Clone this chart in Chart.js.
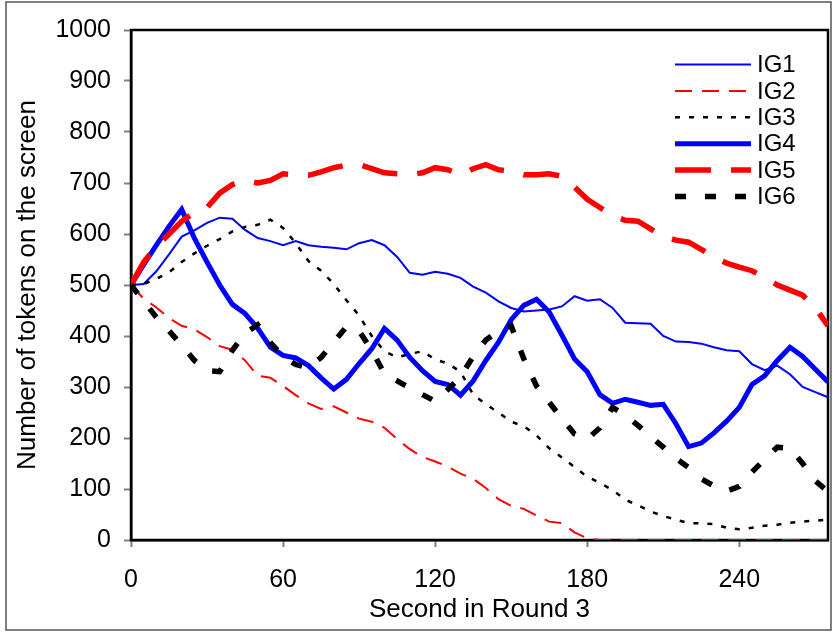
<!DOCTYPE html>
<html>
<head>
<meta charset="utf-8">
<script src="https://cdn.jsdelivr.net/npm/chart.js@4.4.0/dist/chart.umd.min.js"></script>
<style>
html, body { margin: 0; padding: 0; background: #fff; }
#wrap { width: 833px; height: 632px; }
</style>
</head>
<body>
<div id="wrap"><canvas id="tokenChart" width="833" height="632"></canvas></div>
<script>
// seconds into the round, one reading every 5 s
const seconds = [0, 5, 10, 15, 20, 25, 30, 35, 40, 45, 50, 55, 60, 65, 70, 75, 80, 85, 90, 95,
    100, 105, 110, 115, 120, 125, 130, 135, 140, 145, 150, 155, 160, 165, 170, 175, 180, 185, 190, 195,
    200, 205, 210, 215, 220, 225, 230, 235, 240, 245, 250, 255, 260, 265, 270, 275];

const ig1 = [500, 502, 527, 560, 595, 607, 622, 632, 630, 608, 592, 586, 578, 586, 578, 575, 573, 570, 582, 588,
    578, 555, 524, 520, 526, 522, 514, 497, 485, 468, 455, 448, 450, 452, 458, 478, 469, 472, 455, 426,
    425, 424, 400, 389, 388, 385, 378, 372, 370, 345, 333, 342, 325, 300, 290, 280];
const ig2 = [500, 473, 456, 435, 420, 413, 398, 380, 373, 352, 322, 318, 302, 284, 268, 257, 262, 250, 238, 232,
    220, 198, 178, 163, 154, 144, 130, 120, 102, 80, 67, 61, 48, 36, 33, 15, 3, 0, 0, 0,
    0, 0, 0, 0, 0, 0, 0, 0, 0, 0, 0, 0, 0, 0, 0, 0];
const ig3 = [500, 502, 512, 525, 545, 562, 577, 590, 605, 614, 618, 628, 612, 582, 547, 528, 502, 470, 440, 400,
    370, 358, 365, 370, 354, 346, 330, 285, 266, 250, 232, 223, 205, 180, 162, 143, 124, 112, 98, 79,
    68, 56, 47, 40, 33, 33, 31, 24, 21, 24, 28, 30, 34, 36, 38, 40];
const ig4 = [500, 540, 578, 615, 648, 592, 545, 500, 462, 444, 415, 378, 362, 357, 342, 318, 296, 315, 346, 375,
    415, 392, 358, 332, 311, 305, 284, 312, 352, 388, 432, 460, 472, 447, 402, 355, 330, 285, 268, 276,
    270, 264, 266, 228, 183, 190, 210, 233, 260, 305, 322, 352, 378, 360, 335, 310];
const ig5 = [500, 545, 575, 600, 625, 642, 652, 680, 697, 705, 700, 705, 718, 716, 715, 722, 730, 735, 736, 728,
    720, 718, 716, 720, 730, 726, 716, 728, 736, 726, 723, 716, 716, 718, 713, 692, 668, 652, 636, 627,
    625, 610, 595, 588, 584, 570, 555, 543, 535, 528, 515, 500, 490, 480, 455, 420];
const ig6 = [500, 468, 437, 410, 382, 352, 332, 330, 372, 405, 422, 387, 360, 344, 338, 358, 388, 418, 410, 372,
    326, 312, 298, 285, 272, 295, 320, 360, 392, 410, 420, 355, 302, 270, 238, 208, 198, 220, 260, 245,
    225, 203, 182, 160, 142, 120, 106, 96, 105, 133, 158, 182, 180, 150, 116, 95];

const seriesNames = ["IG1", "IG2", "IG3", "IG4", "IG5", "IG6"];
const xTicks = [0, 60, 120, 180, 240];

const fontFamily = "'Liberation Sans', Arial, sans-serif";

function points(values) {
    return values.map((v, i) => ({ x: seconds[i], y: v }));
}

// white page, outer frame and the box round the plot
const framePlugin = {
    id: "frame",
    beforeDraw(chart) {
        const c = chart.ctx;
        c.save();
        c.fillStyle = "#fff";
        c.fillRect(0, 0, chart.width, chart.height);
        c.restore();
    },
    beforeDatasetsDraw(chart) {
        const c = chart.ctx;
        const a = chart.chartArea;
        c.save();
        c.strokeStyle = "#000";
        c.lineWidth = 2.5;
        c.strokeRect(a.left, a.top, a.right - a.left, a.bottom - a.top);
        c.restore();
    },
    afterDraw(chart) {
        const c = chart.ctx;
        c.save();
        c.strokeStyle = "#555";
        c.lineWidth = 1.5;
        c.strokeRect(6, 2, 825, 628);
        c.restore();
    }
};

// legend in the top right corner of the plot
const legendPlugin = {
    id: "cornerLegend",
    afterDraw(chart) {
        const c = chart.ctx;
        c.save();
        chart.data.datasets.forEach((ds, i) => {
            const y = 64.5 + i * 26.4;
            c.beginPath();
            c.strokeStyle = ds.borderColor;
            c.lineWidth = ds.borderWidth;
            c.setLineDash(ds.borderDash || []);
            c.lineCap = "butt";
            c.moveTo(675, y);
            c.lineTo(751, y);
            c.stroke();
            c.setLineDash([]);
            c.fillStyle = "#000";
            c.font = "24px " + fontFamily;
            c.textAlign = "left";
            c.textBaseline = "middle";
            c.fillText(ds.label, 757, y + 1);
        });
        c.restore();
    }
};

const styles = [
    { color: "#0000ff", width: 2, dash: [] },
    { color: "#ff0000", width: 2, dash: [17, 10] },
    { color: "#000000", width: 2.5, dash: [5, 9] },
    { color: "#0000ff", width: 5, dash: [] },
    { color: "#ff0000", width: 5.5, dash: [36, 20] },
    { color: "#000000", width: 5.5, dash: [11, 19] }
];
const seriesValues = [ig1, ig2, ig3, ig4, ig5, ig6];

const ctx = document.getElementById("tokenChart").getContext("2d");
const chart = new Chart(ctx, {
    type: "line",
    data: {
        datasets: seriesValues.map((vals, i) => ({
            label: seriesNames[i],
            data: points(vals),
            borderColor: styles[i].color,
            borderWidth: styles[i].width,
            borderDash: styles[i].dash,
            pointRadius: 0,
            tension: 0,
            fill: false,
            order: 6 - i
        }))
    },
    options: {
        responsive: false,
        animation: false,
        layout: { padding: { top: 30, right: 5, left: 0, bottom: 0 } },
        plugins: {
            legend: { display: false },
            tooltip: { enabled: false }
        },
        scales: {
            x: {
                type: "linear",
                min: 0,
                max: 275,
                afterBuildTicks: scale => { scale.ticks = xTicks.map(v => ({ value: v })); },
                afterFit: scale => { scale.height = 92; },
                ticks: {
                    color: "#000",
                    font: { size: 25, family: fontFamily },
                    padding: 18,
                    maxRotation: 0,
                    callback: v => String(v)
                },
                grid: { drawOnChartArea: false, drawTicks: true, tickLength: 7, tickColor: "#808080", tickWidth: 2 },
                border: { display: true, color: "#000", width: 2.5 },
                title: {
                    display: true,
                    text: "Second in Round 3",
                    color: "#000",
                    font: { size: 26, family: fontFamily },
                    padding: { top: 0, bottom: 7 }
                }
            },
            y: {
                min: 0,
                max: 1000,
                afterFit: scale => { scale.width = 131; },
                ticks: {
                    stepSize: 100,
                    color: "#000",
                    font: { size: 25, family: fontFamily },
                    padding: 13,
                    callback: v => String(v)
                },
                grid: { drawOnChartArea: false, drawTicks: true, tickLength: 7, tickColor: "#808080", tickWidth: 2 },
                border: { display: true, color: "#000", width: 2.5 },
                title: {
                    display: true,
                    text: "Number of tokens on the screen",
                    color: "#000",
                    font: { size: 26, family: fontFamily },
                    padding: { top: 12, bottom: 0 }
                }
            }
        }
    },
    plugins: [framePlugin, legendPlugin]
});
</script>
</body>
</html>
